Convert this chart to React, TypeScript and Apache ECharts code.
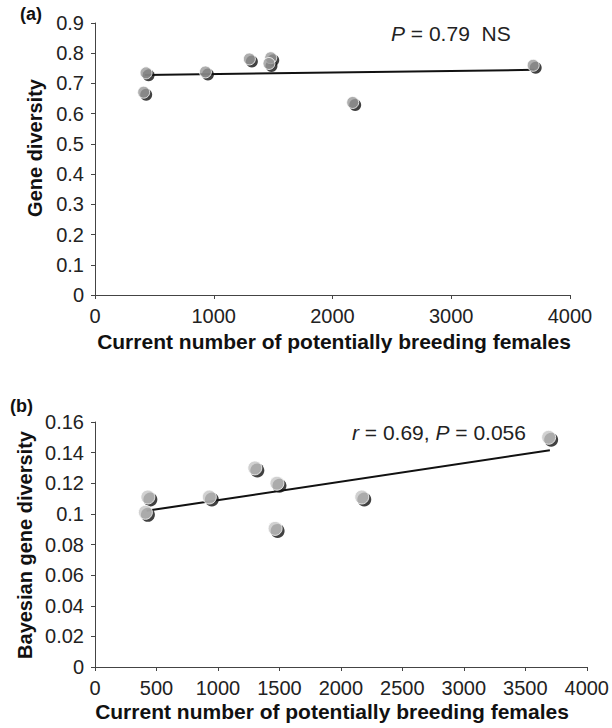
import React, { useEffect, useRef } from "react";
import * as echarts from "echarts";

// Shared x values: current number of potentially breeding females
const femalesX = [430, 410, 930, 1300, 1480, 1465, 2170, 3690];
// Panel (a) gene diversity
const geneDiversity = [0.735, 0.671, 0.738, 0.781, 0.785, 0.766, 0.637, 0.76];
// Panel (b) Bayesian gene diversity
const bayesianDiversity = [0.111, 0.101, 0.111, 0.13, 0.12, 0.0905, 0.111, 0.15];
// Fitted lines (endpoints)
const trendAx = [420, 3700];
const trendAy = [0.728, 0.745];
const trendBx = [420, 3700];
const trendBy = [0.102, 0.1415];
// Axis ranges
const xMax = 4000;
const xIntervalA = 1000;
const xIntervalB = 500;
const yMaxA = 0.9;
const yIntervalA = 0.1;
const yMaxB = 0.16;
const yIntervalB = 0.02;

const FONT = "Liberation Sans, Arial, Helvetica, sans-serif";

export default function App() {
  const ref = useRef<HTMLDivElement>(null);
  useEffect(() => {
    document.body.style.margin = "0";
    const chart = echarts.init(ref.current!, null, { renderer: "svg" });
    const pts = (ys: number[]) => femalesX.map((x, i) => [x, ys[i]]);
    const line = (xs: number[], ys: number[]) => xs.map((x, i) => [x, ys[i]]);
    const axisCommon = {
      axisLine: { show: true, lineStyle: { color: "#444", width: 1 } },
      axisTick: { show: true, length: 4, lineStyle: { color: "#444", width: 1 } },
      splitLine: { show: false },
      axisLabel: { color: "#222", fontSize: 20, fontFamily: FONT },
    };
    const fmt = (v: number) => String(Number(v.toFixed(3)));
    const option = {
      animation: false,
      grid: [
        { left: 95, top: 23, right: 42, bottom: 728 - 295 },
        { left: 95, top: 422, right: 23, bottom: 728 - 667 },
      ],
      xAxis: [
        {
          gridIndex: 0, type: "value", min: 0, max: xMax, interval: xIntervalA,
          ...axisCommon,
          axisLabel: { ...axisCommon.axisLabel, margin: 11, formatter: fmt },
        },
        {
          gridIndex: 1, type: "value", min: 0, max: xMax, interval: xIntervalB,
          ...axisCommon,
          axisLabel: { ...axisCommon.axisLabel, margin: 11, formatter: fmt },
        },
      ],
      yAxis: [
        {
          gridIndex: 0, type: "value", min: 0, max: yMaxA, interval: yIntervalA,
          ...axisCommon,
          axisLabel: { ...axisCommon.axisLabel, margin: 11, formatter: fmt },
        },
        {
          gridIndex: 1, type: "value", min: 0, max: yMaxB, interval: yIntervalB,
          ...axisCommon,
          axisLabel: { ...axisCommon.axisLabel, margin: 11, formatter: fmt },
        },
      ],
      series: [
        {
          type: "line", xAxisIndex: 0, yAxisIndex: 0, data: line(trendAx, trendAy),
          showSymbol: false, lineStyle: { color: "#111", width: 2 }, z: 2, silent: true,
        },
        {
          type: "scatter", xAxisIndex: 0, yAxisIndex: 0, data: pts(geneDiversity),
          symbolSize: 12, symbolOffset: [2.5, 2.5], itemStyle: { color: "#111" }, z: 3, silent: true,
        },
        {
          type: "scatter", xAxisIndex: 0, yAxisIndex: 0, data: pts(geneDiversity),
          symbolSize: 12, itemStyle: { color: "#9a9a9a", borderColor: "#fff", borderWidth: 1 }, z: 4, silent: true,
        },
        {
          type: "line", xAxisIndex: 1, yAxisIndex: 1, data: line(trendBx, trendBy),
          showSymbol: false, lineStyle: { color: "#111", width: 2 }, z: 2, silent: true,
        },
        {
          type: "scatter", xAxisIndex: 1, yAxisIndex: 1, data: pts(bayesianDiversity),
          symbolSize: 14, symbolOffset: [2.5, 2.5], itemStyle: { color: "#111" }, z: 3, silent: true,
        },
        {
          type: "scatter", xAxisIndex: 1, yAxisIndex: 1, data: pts(bayesianDiversity),
          symbolSize: 14, itemStyle: { color: "#c6c6c6", borderColor: "#fff", borderWidth: 1 }, z: 4, silent: true,
        },
      ],
      graphic: [
        { type: "text", x: 20, y: 14, style: { text: "(a)", font: `bold 18px ${FONT}`, fill: "#111", textVerticalAlign: "middle" } },
        { type: "text", x: 10, y: 406, style: { text: "(b)", font: `bold 18px ${FONT}`, fill: "#111", textVerticalAlign: "middle" } },
        {
          type: "text", x: 35, y: 148, rotation: Math.PI / 2,
          style: { text: "Gene diversity", font: `bold 20px ${FONT}`, fill: "#111", textAlign: "center", textVerticalAlign: "middle" },
        },
        {
          type: "text", x: 25, y: 545, rotation: Math.PI / 2,
          style: { text: "Bayesian gene diversity", font: `bold 20px ${FONT}`, fill: "#111", textAlign: "center", textVerticalAlign: "middle" },
        },
        {
          type: "text", x: 334, y: 341,
          style: { text: "Current number of potentially breeding females", font: `bold 21px ${FONT}`, fill: "#111", textAlign: "center", textVerticalAlign: "middle" },
        },
        {
          type: "text", x: 332, y: 711,
          style: { text: "Current number of potentially breeding females", font: `bold 21px ${FONT}`, fill: "#111", textAlign: "center", textVerticalAlign: "middle" },
        },
        {
          type: "text", x: 391, y: 33,
          style: {
            text: "{i|P} = 0.79  NS", fill: "#222", fontSize: 21, fontFamily: FONT, textVerticalAlign: "middle",
            rich: { i: { fontStyle: "italic", fontSize: 21, fontFamily: FONT, fill: "#222" } },
          },
        },
        {
          type: "text", x: 352, y: 432,
          style: {
            text: "{i|r} = 0.69, {i|P} = 0.056", fill: "#222", fontSize: 21, fontFamily: FONT, textVerticalAlign: "middle",
            rich: { i: { fontStyle: "italic", fontSize: 21, fontFamily: FONT, fill: "#222" } },
          },
        },
      ],
    };
    chart.setOption(option as any);
    return () => chart.dispose();
  }, []);
  return <div ref={ref} style={{ position: "absolute", left: 0, top: 0, width: 612, height: 728 }} />;
}
